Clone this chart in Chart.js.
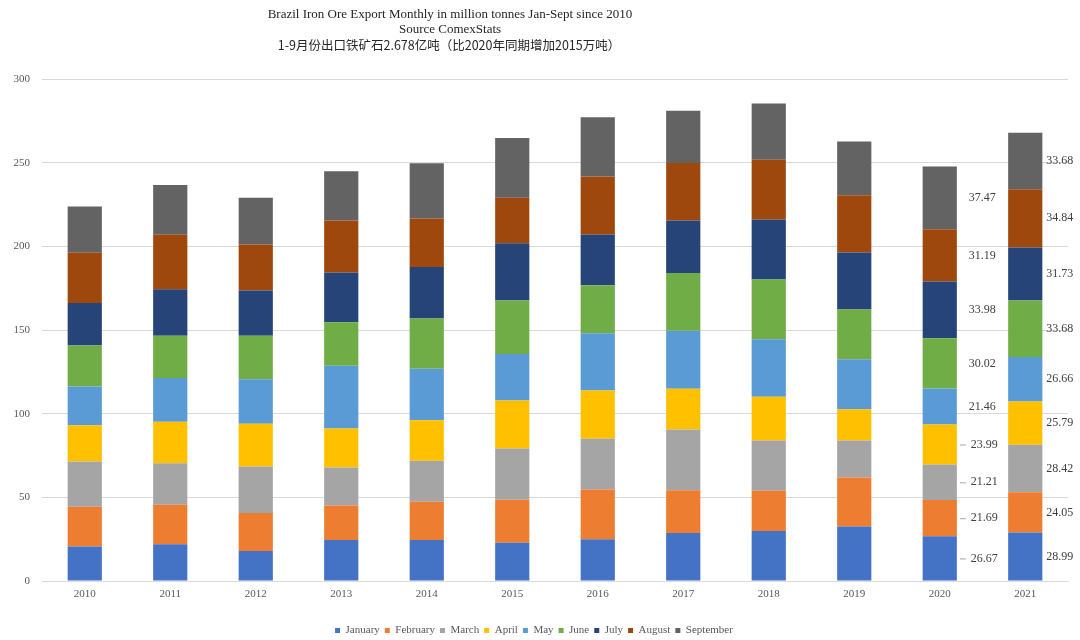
<!DOCTYPE html>
<html>
<head>
<meta charset="utf-8">
<script src="https://cdn.jsdelivr.net/npm/chart.js@4"></script>
<style>
  body { margin: 0; background: #fff; }
  #wrap { position: relative; width: 1080px; height: 640px; }
</style>
</head>
<body>
<div id="wrap"><canvas id="graphique" width="1080" height="640"></canvas></div>
<script>
// Years and monthly exports (million tonnes)
var years = ["2010", "2011", "2012", "2013", "2014", "2015", "2016", "2017", "2018", "2019", "2020", "2021"];
var months = ["January", "February", "March", "April", "May", "June", "July", "August", "September"];

var jan = [20.6, 22.0, 18.0, 24.5, 24.5, 22.9, 24.9, 28.7, 29.9, 32.5, 26.67, 28.99];
var feb = [23.7, 23.5, 22.7, 20.6, 22.8, 25.6, 29.8, 25.6, 24.0, 29.4, 21.69, 24.05];
var mar = [27.1, 24.9, 27.7, 22.7, 24.5, 30.7, 30.3, 36.3, 30.1, 22.1, 21.21, 28.42];
var apr = [21.7, 24.7, 25.6, 23.4, 24.2, 28.7, 28.9, 24.3, 26.1, 18.6, 23.99, 25.79];
var may = [23.2, 26.2, 26.5, 37.5, 30.9, 27.8, 34.1, 34.7, 34.4, 29.9, 21.46, 26.66];
var jun = [24.5, 25.3, 26.1, 25.9, 29.9, 31.9, 28.8, 34.4, 35.7, 29.7, 30.02, 33.68];
var jul = [25.4, 27.8, 27.0, 29.8, 30.9, 34.3, 30.3, 31.5, 35.9, 34.1, 33.98, 31.73];
var aug = [30.0, 32.5, 27.5, 31.1, 29.0, 27.1, 34.7, 34.3, 35.7, 34.3, 31.19, 34.84];
var sep = [27.6, 29.7, 27.9, 29.3, 32.9, 35.8, 35.3, 31.3, 33.5, 32.0, 37.47, 33.68];

var yTicks = [0, 50, 100, 150, 200, 250, 300];
var labelledYears = ["2020", "2021"];

var titleLines = [
  "Brazil Iron Ore Export Monthly in million tonnes Jan-Sept since 2010",
  "Source ComexStats",
  "1-9月份出口铁矿石2.678亿吨（比2020年同期增加2015万吨）"
];

var series = [jan, feb, mar, apr, may, jun, jul, aug, sep];
var couleurs = ["#4472C4", "#ED7D31", "#A5A5A5", "#FFC000", "#5B9BD5", "#70AD47", "#264478", "#9E480E", "#636363"];

var serif = "'Liberation Serif', 'Times New Roman', serif";

var datasets = [];
for (var i = 0; i < months.length; i++) {
  datasets.push({
    label: months[i],
    data: series[i],
    backgroundColor: couleurs[i],
    borderWidth: 0,
    barPercentage: 0.4,
    categoryPercentage: 1.0
  });
}

// Title drawn by hand (third line in CJK font)
var titrePlugin = {
  id: "titre",
  afterDraw: function(chart) {
    var c = chart.ctx;
    c.save();
    c.fillStyle = "#262626";
    c.textAlign = "center";
    c.textBaseline = "middle";
    c.font = "13px " + serif;
    c.fillText(titleLines[0], 450, 15);
    c.fillText(titleLines[1], 450, 30);
    c.font = "12.5px 'Noto Sans CJK SC', sans-serif";
    c.fillText(titleLines[2], 449, 45);
    c.restore();
  }
};

// Value labels for the last two years
var etiquettesPlugin = {
  id: "etiquettes",
  afterDatasetsDraw: function(chart) {
    var c = chart.ctx;
    c.save();
    c.font = "12px " + serif;
    c.fillStyle = "#404040";
    c.textBaseline = "middle";
    c.textAlign = "left";
    c.strokeStyle = "#a6a6a6";
    c.lineWidth = 1;
    for (var k = 0; k < labelledYears.length; k++) {
      var idx = years.indexOf(labelledYears[k]);
      for (var d = 0; d < chart.data.datasets.length; d++) {
        var bar = chart.getDatasetMeta(d).data[idx];
        var val = chart.data.datasets[d].data[idx];
        var right = bar.x + bar.width / 2;
        var y = (bar.y + bar.base) / 2;
        if (k === 0) {
          var tx = right + (d < 4 ? 14 : 12);
          if (d < 4) {
            c.beginPath();
            c.moveTo(right + 3, y + 0.5);
            c.lineTo(right + 9, y + 0.5);
            c.stroke();
          }
          c.fillText(val.toFixed(2), tx, y);
        } else {
          c.fillText(val.toFixed(2), right + 4, y);
        }
      }
    }
    c.restore();
  }
};

var ctx = document.getElementById("graphique").getContext("2d");

var chart = new Chart(ctx, {
  type: "bar",
  data: { labels: years, datasets: datasets },
  plugins: [titrePlugin, etiquettesPlugin],
  options: {
    responsive: false,
    animation: false,
    layout: { padding: { top: 79, right: 12, left: 0, bottom: -6 } },
    plugins: {
      title: { display: false },
      tooltip: { enabled: false },
      legend: {
        position: "bottom",
        labels: {
          boxWidth: 5,
          boxHeight: 5,
          padding: 5,
          color: "#595959",
          font: { family: serif, size: 11 }
        }
      }
    },
    scales: {
      x: {
        stacked: true,
        grid: { display: false, drawTicks: false },
        border: { color: "#d9d9d9" },
        afterFit: function(scale) { scale.height = 39; },
        ticks: { color: "#595959", padding: 7, font: { family: serif, size: 11 } }
      },
      y: {
        stacked: true,
        min: 0,
        max: 300,
        afterBuildTicks: function(scale) {
          scale.ticks = yTicks.map(function(v) { return { value: v }; });
        },
        afterFit: function(scale) { scale.width = 42; },
        grid: { color: "#d9d9d9", drawTicks: false },
        border: { display: false },
        ticks: { color: "#595959", padding: 12, font: { family: serif, size: 11 } }
      }
    }
  }
});
</script>
</body>
</html>
